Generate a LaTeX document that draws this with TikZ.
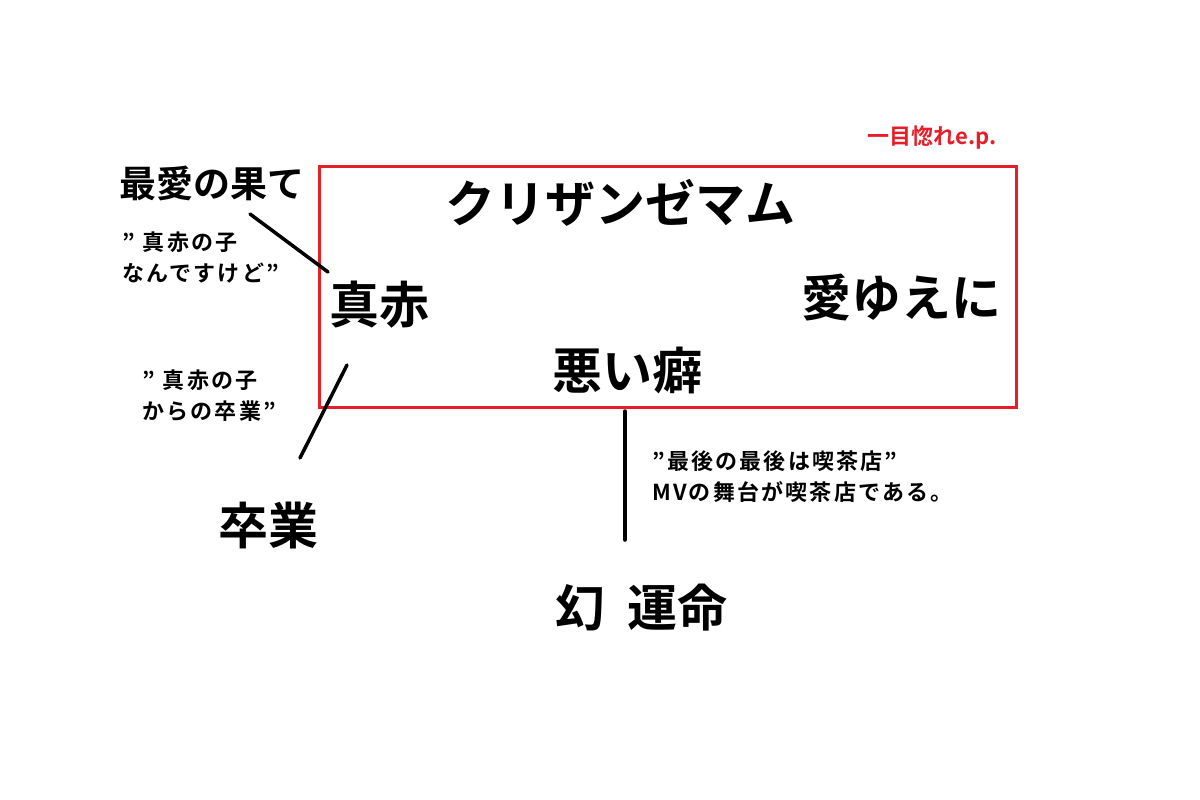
\documentclass[tikz,border=0pt]{standalone}
\usepackage{fontspec}
\setmainfont{Noto Sans CJK JP}[BoldFont={Noto Sans CJK JP Bold}]
\newfontfamily\jpb{Noto Sans CJK JP Bold}
\newfontfamily\jps{Noto Sans CJK JP Bold}[LetterSpace=10]
\definecolor{boxred}{RGB}{230,30,40}
\begin{document}
\begin{tikzpicture}[x=1pt,y=-1pt,
  big/.style={font=\jpb\fontsize{50}{54}\selectfont, inner sep=0pt},
  mid/.style={font=\jpb\fontsize{37}{42}\selectfont, inner sep=0pt},
  small/.style={font=\jps\fontsize{22}{31}\selectfont, inner sep=0pt, align=left, anchor=north west},
  conn/.style={line width=3.5pt, line cap=round}]
\useasboundingbox (0,0) rectangle (1200,800);
\node[draw=boxred, line width=3pt, minimum width=697pt, minimum height=241pt, anchor=north west, inner sep=0pt] (box) at (318,165) {};
\node[big] (title) at (620,203) {クリザンゼマム};
\node[big] (makka) at (379,305) {真赤};
\node[big] (ai) at (901,298) {愛ゆえに};
\node[big] (warui) at (627,370) {悪い癖};
\node[big] (sotsu) at (268,525) {卒業};
\node[big] (maboroshi) at (641,608) {幻\hspace{22pt}運命};
\node[mid] (saiai) at (212,183) {最愛の果て};
\node[small] (n1) at (122,232) {”\hspace{8pt}真赤の子\\なんですけど”};
\node[small] (n2) at (142,370) {”\hspace{8pt}真赤の子\\からの卒業”};
\node[small] (n3) at (652,451) {”最後の最後は喫茶店”\\MVの舞台が喫茶店である。};
\node[font=\jpb\fontsize{22}{24}\selectfont, text=boxred, inner sep=0pt] (ep) at (932,138) {一目惚れe.p.};
\coordinate (a1) at (250,214);
\coordinate (a2) at (328,272);
\coordinate (b1) at (347,365);
\coordinate (b2) at (300,458);
\coordinate (c1) at (625,411);
\coordinate (c2) at (625,540);
\draw[conn] (a1) -- (a2);
\draw[conn] (b1) -- (b2);
\draw[conn] (c1) -- (c2);
\end{tikzpicture}
\end{document}
